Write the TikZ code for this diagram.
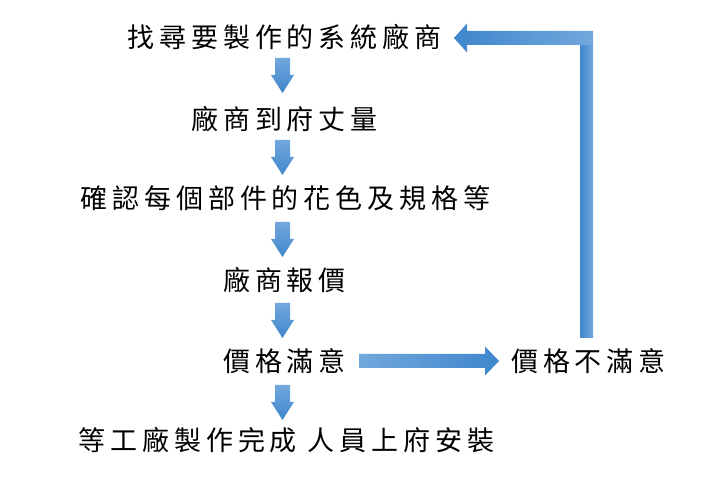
\documentclass[tikz,border=0pt]{standalone}
\usepackage{fontspec}
\newfontfamily\cjk[LetterSpace=18]{Noto Sans CJK TC}
\usetikzlibrary{calc}
\definecolor{blight}{HTML}{72A8DD}
\definecolor{bdark}{HTML}{3F86CC}
\tikzset{
  lbl/.style={font=\cjk\fontsize{27}{27}\selectfont, inner sep=0pt, text=black},
  vfill/.style={top color=blight, bottom color=bdark},
  hfill/.style={left color=blight, right color=bdark},
  lfill/.style={left color=bdark, right color=blight},
}
% down block arrow: top-centre point #1
\newcommand\bdown[1]{%
  \shade[vfill] ($#1+(-7.5pt,0)$) -- ++(15pt,0) -- ++(0,-17pt) -- ++(4pt,0)
    -- ($#1+(0,-35pt)$) -- ($#1+(-11.5pt,-17pt)$) -- ++(4pt,0) -- cycle;}
\begin{document}
\begin{tikzpicture}[x=1pt,y=1pt]
\useasboundingbox (0,0) rectangle (718,-478);
\node[lbl] (t1) at (284.5,-37.5) {找尋要製作的系統廠商};
\node[lbl] (t2) at (284.5,-119) {廠商到府丈量};
\node[lbl] (t3) at (285.5,-198) {確認每個部件的花色及規格等};
\node[lbl] (t4) at (284.5,-280) {廠商報價};
\node[lbl] (t5) at (284.5,-361) {價格滿意};
\node[lbl] (t6) at (286.5,-440) {等工廠製作完成 人員上府安裝};
\node[lbl] (t7) at (588.5,-361) {價格不滿意};
\coordinate (a1) at (282.5,-58);
\coordinate (a2) at (282.5,-140);
\coordinate (a3) at (282.5,-222);
\coordinate (a4) at (282.5,-303);
\coordinate (a5) at (282.5,-385);
\bdown{(a1)}\bdown{(a2)}\bdown{(a3)}\bdown{(a4)}\bdown{(a5)}
% right arrow from t5 to t7
\coordinate (r0) at (359,-361);
\coordinate (r1) at (499,-361);
\shade[hfill] ($(r0)+(0,7pt)$) -- ($(r1)+(-14pt,7pt)$) -- ($(r1)+(-14pt,14.5pt)$)
  -- (r1) -- ($(r1)+(-14pt,-14.5pt)$) -- ($(r1)+(-14pt,-7pt)$) -- ($(r0)+(0,-7pt)$) -- cycle;
% L arrow from t7 back to t1
\coordinate (v0) at (586.5,-338);
\coordinate (h1) at (454,-38);
\shade[left color=bdark, right color=blight]
  ($(v0)+(-6.5pt,0)$) rectangle (593,-45);
\shade[lfill] (593,-31) -- (593,-45) -- (467,-45) -- (467,-52.5) -- (h1) -- (467,-23.5) -- (467,-31) -- cycle;
\end{tikzpicture}
\end{document}
